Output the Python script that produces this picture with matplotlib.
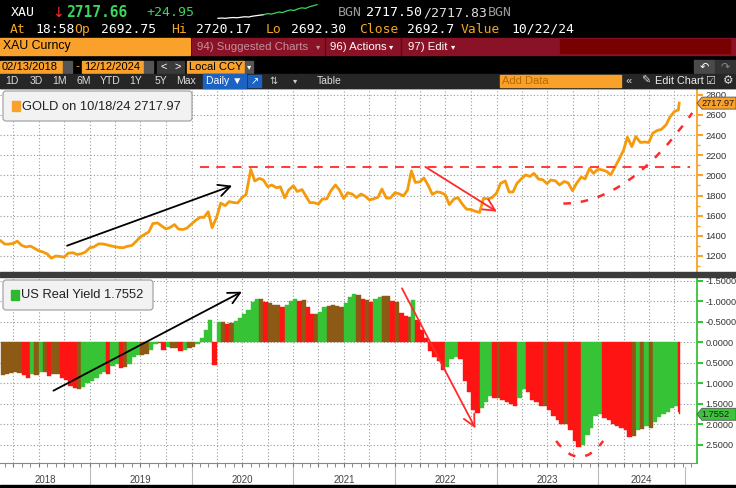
import matplotlib
matplotlib.use('Agg')
import matplotlib.pyplot as plt
import matplotlib.dates as mdates
from matplotlib.patches import Rectangle, FancyBboxPatch, Polygon, PathPatch
from matplotlib.path import Path
from matplotlib.transforms import blended_transform_factory
import numpy as np
import pandas as pd

# semi-monthly readings (1st / 15th of each month), last point is 10/18/24
gold_2018 = [1350, 1318, 1318, 1325, 1347, 1305, 1290, 1298, 1278, 1252, 1241,
             1220, 1178, 1200, 1195, 1190, 1228, 1233, 1215, 1222, 1238]
gold_2019 = [1282, 1290, 1320, 1320, 1312, 1302, 1292, 1285, 1282, 1296, 1305, 1342,
             1388, 1412, 1440, 1522, 1528, 1500, 1468, 1482, 1512, 1468, 1463, 1476]
gold_2020 = [1517, 1552, 1585, 1583, 1640, 1480, 1590, 1725, 1700, 1740, 1730, 1727,
             1780, 1810, 2060, 1945, 1970, 1955, 1887, 1905, 1878, 1887, 1777, 1855]
gold_2021 = [1898, 1840, 1860, 1795, 1730, 1730, 1715, 1765, 1768, 1845, 1905, 1858,
             1770, 1828, 1814, 1780, 1815, 1795, 1757, 1767, 1783, 1865, 1775, 1775]
gold_2022 = [1829, 1818, 1797, 1855, 2045, 1930, 1937, 1975, 1897, 1812, 1837, 1830,
             1807, 1710, 1766, 1780, 1711, 1665, 1661, 1645, 1633, 1772, 1768, 1778]
gold_2023 = [1824, 1920, 1945, 1835, 1836, 1920, 1969, 2005, 1990, 2020, 1963, 1958,
             1919, 1955, 1945, 1905, 1940, 1925, 1848, 1920, 1983, 1965, 2070, 2020]
gold_2024 = [2063, 2055, 2039, 2005, 2082, 2155, 2250, 2380, 2286, 2385, 2327, 2332,
             2327, 2420, 2447, 2457, 2503, 2580, 2635, 2650, 2717.97]

yield_2018 = [0.80, 0.78, 0.75, 0.72, 0.74, 0.80, 0.88, 0.78, 0.80, 0.72, 0.73,
              0.82, 0.78, 0.78, 0.88, 0.92, 1.06, 1.12, 1.14, 1.08, 1.00]
yield_2019 = [0.95, 0.88, 0.78, 0.73, 0.78, 0.58, 0.52, 0.62, 0.60, 0.53, 0.35, 0.30,
              0.30, 0.28, 0.18, 0.05, 0.02, 0.18, 0.12, 0.15, 0.15, 0.22, 0.18, 0.15]
yield_2020 = [0.12, 0.05, -0.10, -0.30, -0.55, 0.55, -0.50, -0.50, -0.45, -0.48, -0.52, -0.60,
              -0.70, -0.80, -0.98, -1.05, -1.05, -0.98, -0.95, -0.92, -0.90, -0.85, -0.92, -1.00]
yield_2021 = [-1.05, -1.00, -1.02, -0.85, -0.70, -0.68, -0.75, -0.85, -0.88, -0.90, -0.88, -0.85,
              -0.95, -1.10, -1.18, -1.15, -1.05, -1.02, -0.98, -1.05, -1.10, -1.12, -1.12, -1.00]
yield_2022 = [-0.98, -0.72, -0.65, -0.62, -1.02, -0.55, -0.30, -0.10, 0.20, 0.35, 0.45, 0.68,
              0.60, 0.40, 0.35, 0.40, 0.95, 1.20, 1.65, 1.72, 1.60, 1.45, 1.30, 1.35]
yield_2023 = [1.35, 1.40, 1.45, 1.50, 1.55, 1.35, 1.15, 1.20, 1.40, 1.45, 1.55, 1.55,
              1.65, 1.80, 1.90, 2.00, 2.00, 2.15, 2.40, 2.55, 2.50, 2.25, 2.10, 1.80]
yield_2024 = [1.75, 1.85, 1.90, 2.00, 2.05, 2.10, 2.15, 2.30, 2.28, 2.15, 2.12, 2.05,
              2.08, 1.95, 1.82, 1.75, 1.70, 1.60, 1.55, 1.70, 1.7552]

gold = gold_2018 + gold_2019 + gold_2020 + gold_2021 + gold_2022 + gold_2023 + gold_2024
real_yield = yield_2018 + yield_2019 + yield_2020 + yield_2021 + yield_2022 + yield_2023 + yield_2024
dates = list(pd.date_range('2018-02-15', periods=161, freq='SMS')) + [pd.Timestamp('2024-10-18')]

# header sparkline (intraday)
spark_prev = [2692, 2692.5, 2692, 2693, 2693.5, 2693, 2694, 2695, 2694.5, 2696, 2697, 2698, 2699]
spark_today = [2699, 2701, 2700, 2702, 2704, 2703, 2706, 2708, 2707, 2710, 2712, 2711, 2714, 2716, 2718]

gold_ticks = [1200, 1400, 1600, 1800, 2000, 2200, 2400, 2600, 2800]
yield_ticks = [-1.5, -1.0, -0.5, 0.0, 0.5, 1.0, 1.5, 2.0, 2.5]
year_labels = ['2018', '2019', '2020', '2021', '2022', '2023', '2024']
year_edges = ['2018-02-12', '2019-01-01', '2020-01-01', '2021-01-01', '2022-01-01',
              '2023-01-01', '2024-01-01', '2024-11-09']

ORANGE = '#F9A12B'
GOLD_C = '#F59A0A'
RED = '#FF1414'
GREEN = '#36C336'
BROWN = '#8C5A14'
DRED = '#FF2A2A'
GRID = '#9A9A9A'

W, H = 736, 488
fig = plt.figure(figsize=(W / 100, H / 100), dpi=100, facecolor='white')


def box(x0, y0, x1, y1):
    return [x0 / W, 1 - y1 / H, (x1 - x0) / W, (y1 - y0) / H]


dn = mdates.date2num
x_lo, x_hi = pd.Timestamp('2018-02-12'), pd.Timestamp('2024-12-21')
SANS = 'Liberation Sans'
MONO = 'DejaVu Sans Mono'

# ---------------- gold panel ----------------
ax_g = fig.add_axes(box(0, 88, 697, 272))
ax_g.plot(dates, gold, color=GOLD_C, lw=2.0, solid_joinstyle='round', zorder=3)
ax_g.set_xlim(x_lo, x_hi)
ax_g.set_ylim(1041, 2868)
ax_g.yaxis.tick_right()
ax_g.set_yticks(gold_ticks)
ax_g.set_yticks(range(1100, 2900, 100), minor=True)
ax_g.tick_params(axis='y', which='major', colors=ORANGE, labelcolor='#333333', length=4, width=1.5,
                 labelsize=6.8, pad=2)
ax_g.tick_params(axis='y', which='minor', colors=ORANGE, length=2, width=1)
for lab in ax_g.get_yticklabels():
    lab.set_family(SANS)
ax_g.xaxis.set_major_locator(mdates.MonthLocator(bymonth=[1, 4, 7, 10]))
ax_g.tick_params(axis='x', which='both', length=0, labelbottom=False)
ax_g.grid(True, which='major', color=GRID, ls=(0, (1, 2)), lw=0.8)
for s in ['left', 'top', 'bottom']:
    ax_g.spines[s].set_visible(False)
ax_g.spines['right'].set_color(ORANGE)
ax_g.spines['right'].set_linewidth(1.3)

# annotations on gold
ax_g.plot([pd.Timestamp('2020-02-01'), pd.Timestamp('2024-11-27')], [2087, 2087],
          color=DRED, ls=(0, (5, 4)), lw=1.3, zorder=4)
ax_g.annotate('', xy=(dn(pd.Timestamp('2020-05-26')), 1898), xytext=(dn(pd.Timestamp('2018-10-11')), 1302),
              arrowprops=dict(arrowstyle='->,head_length=0.7,head_width=0.35', color='black', lw=1.3,
                              mutation_scale=12, shrinkA=0, shrinkB=0), zorder=5)
ax_g.annotate('', xy=(dn(pd.Timestamp('2023-01-02')), 1640), xytext=(dn(pd.Timestamp('2022-04-20')), 2085),
              arrowprops=dict(arrowstyle='->,head_length=0.7,head_width=0.35', color=DRED, lw=1.3,
                              mutation_scale=12, shrinkA=0, shrinkB=0), zorder=5)
curve_g = Path([(dn(pd.Timestamp('2023-08-29')), 1721), (dn(pd.Timestamp('2024-04-16')), 1721),
                (dn(pd.Timestamp('2024-12-04')), 2620)], [Path.MOVETO, Path.CURVE3, Path.CURVE3])
ax_g.add_patch(PathPatch(curve_g, fill=False, ec=DRED, lw=1.8, ls=(0, (3, 4)), zorder=5))

# ---------------- real yield panel ----------------
ax_y = fig.add_axes(box(0, 277, 697, 463))
num = dn(dates)
widths = np.append(np.diff(num), 3)
diffs = np.diff(real_yield, prepend=real_yield[0])
colors = [RED if d > 0.04 else GREEN if d < -0.04 else BROWN for d in diffs]
ax_y.bar(num, real_yield, width=widths, align='edge', color=colors, edgecolor=colors, lw=0.3, zorder=3)
ax_y.set_xlim(x_lo, x_hi)
ax_y.set_ylim(2.944, -1.593)
ax_y.yaxis.tick_right()
ax_y.set_yticks(yield_ticks)
ax_y.set_yticklabels(['%.4f' % v for v in yield_ticks], family=SANS)
ax_y.tick_params(axis='y', colors=GREEN, labelcolor='#333333', length=4, width=1.5, labelsize=6.6, pad=2)
ax_y.xaxis.set_major_locator(mdates.MonthLocator(bymonth=[1, 4, 7, 10]))
ax_y.xaxis.set_minor_locator(mdates.MonthLocator())
ax_y.tick_params(axis='x', which='both', length=3, color='#777777', labelbottom=False)
ax_y.grid(True, which='major', color=GRID, ls=(0, (1, 2)), lw=0.8)
ax_y.set_axisbelow(True)
for s in ['left', 'top']:
    ax_y.spines[s].set_visible(False)
ax_y.spines['right'].set_color(GREEN)
ax_y.spines['right'].set_linewidth(1.3)
ax_y.spines['bottom'].set_color('#888888')

ax_y.annotate('', xy=(dn(pd.Timestamp('2020-06-30')), -1.234), xytext=(dn(pd.Timestamp('2018-08-23')), 1.18),
              arrowprops=dict(arrowstyle='->,head_length=0.7,head_width=0.35', color='black', lw=1.3,
                              mutation_scale=12, shrinkA=0, shrinkB=0), zorder=5)
ax_y.annotate('', xy=(dn(pd.Timestamp('2022-10-17')), 2.098), xytext=(dn(pd.Timestamp('2022-01-26')), -1.317),
              arrowprops=dict(arrowstyle='->,head_length=0.7,head_width=0.35', color=DRED, lw=1.3,
                              mutation_scale=12, shrinkA=0, shrinkB=0), zorder=5)
curve_y = Path([(dn(pd.Timestamp('2023-08-03')), 2.407), (dn(pd.Timestamp('2023-10-27')), 3.188),
                (dn(pd.Timestamp('2024-01-19')), 2.407)], [Path.MOVETO, Path.CURVE3, Path.CURVE3])
ax_y.add_patch(PathPatch(curve_y, fill=False, ec=DRED, lw=1.8, ls=(0, (3, 4)), zorder=5, clip_on=False))

# year labels under the axis
tr = blended_transform_factory(ax_y.transData, ax_y.transAxes)
edges = [pd.Timestamp(e) for e in year_edges]
for i, lab in enumerate(year_labels):
    mid = edges[i] + (edges[i + 1] - edges[i]) / 2
    ax_y.text(dn(mid), -0.092, lab, transform=tr, ha='center', va='center', fontsize=7,
              color='#444444', family=SANS)
for e in edges[1:]:
    ax_y.plot([dn(e), dn(e)], [-0.022, -0.118], transform=tr, color='#BBBBBB', lw=0.8, clip_on=False)

# ---------------- overlay (terminal chrome) in pixel units ----------------
ui = fig.add_axes([0, 0, 1, 1], zorder=10)
ui.set_xlim(0, W)
ui.set_ylim(H, 0)
ui.axis('off')
ui.patch.set_alpha(0)

ui.add_patch(Rectangle((0, 0), W, 88, color='black'))
ui.add_patch(Rectangle((0, 485), W, 3, color='black'))
ui.add_patch(Rectangle((0, 272), W, 5, color='#3C3C3C'))


def t(x, y, s, c='white', size=9, fam=SANS, weight='normal', ha='left'):
    ui.text(x, y, s, color=c, fontsize=size, family=fam, weight=weight, ha=ha, va='center')


# row 1
t(11, 12.5, 'XAU', 'white', 9.5, MONO)
t(52, 12.5, '\u2193', '#FF3030', 10, 'DejaVu Sans')
t(66, 12.5, '2717.66', '#3CD45A', 10.5, MONO, 'bold')
t(146, 12.5, '+24.95', '#3CD45A', 9.5, MONO)
t(338, 12.5, 'BGN', '#9A9A9A', 9.5, MONO)
t(366, 12.5, '2717.50', 'white', 9.5, MONO)
t(423, 12.5, '/2717.83', '#DDDDDD', 9.5, MONO)
t(488, 12.5, 'BGN', '#9A9A9A', 9.5, MONO)
# row 2
OR2 = '#F5A623'
t(10, 29.5, 'At', OR2, 9.4, MONO)
t(35, 29.5, '18:58', 'white', 9.4, MONO)
t(74, 29.5, 'Op', OR2, 9.4, MONO)
t(101, 29.5, '2692.75', 'white', 9.4, MONO)
t(171, 29.5, 'Hi', OR2, 9.4, MONO)
t(196, 29.5, '2720.17', 'white', 9.4, MONO)
t(266, 29.5, 'Lo', OR2, 9.4, MONO)
t(291, 29.5, '2692.30', 'white', 9.4, MONO)
t(359, 29.5, 'Close', OR2, 9.4, MONO)
t(407, 29.5, '2692.7', 'white', 9.4, MONO)
t(461, 29.5, 'Value', OR2, 9.4, MONO)
t(511, 29.5, '10/22/24', 'white', 9.4, MONO)

# sparkline
ax_sp = fig.add_axes(box(213, 4, 322, 19), zorder=11)
ax_sp.axis('off')
n0 = len(spark_prev)
ax_sp.plot(range(n0), spark_prev, color='white', lw=0.9)
ax_sp.plot(range(n0 - 1, n0 - 1 + len(spark_today)), spark_today, color='#3CD45A', lw=0.9)

# row 3
ui.add_patch(Rectangle((0, 38), 190, 17, color=ORANGE))
ui.add_patch(Rectangle((192, 38), W - 192, 17, color='#8A1226'))
ui.add_patch(Rectangle((560, 39), 170, 14, color='#780000'))
for xs in [325, 401]:
    ui.plot([xs, xs], [38, 55], color='#5A0A14', lw=1)
t(3, 46.5, 'XAU Curncy', 'black', 8.8)
t(197, 46.5, '94) Suggested Charts', '#C4909A', 8.2)
t(316, 46.5, '\u25be', '#C4909A', 6, 'DejaVu Sans')
t(330, 46.5, '96) Actions', 'white', 8.2)
t(389, 46.5, '\u25be', 'white', 6, 'DejaVu Sans')
t(408, 46.5, '97) Edit', 'white', 8.2)
t(451, 46.5, '\u25be', 'white', 6, 'DejaVu Sans')

# row 4
ui.add_patch(Rectangle((0, 61), 62, 12, color=ORANGE))
ui.add_patch(Rectangle((63, 61), 9, 12, color='#555555'))
t(2, 67, '02/13/2018', 'black', 8)
t(75, 67, '-', ORANGE, 9)
ui.add_patch(Rectangle((82, 61), 61, 12, color=ORANGE))
ui.add_patch(Rectangle((144, 61), 9, 12, color='#555555'))
t(84, 67, '12/12/2024', 'black', 8)
ui.add_patch(Rectangle((157, 61), 13, 12, color='#3A3A3A'))
ui.add_patch(Rectangle((171, 61), 13, 12, color='#3A3A3A'))
t(163.5, 67, '<', 'white', 8, ha='center')
t(177.5, 67, '>', 'white', 8, ha='center')
ui.add_patch(Rectangle((187, 61), 57, 12, color=ORANGE))
t(189, 67, 'Local CCY', 'black', 8)
ui.add_patch(Rectangle((245, 61), 8, 12, color='#555555'))
t(249, 67, '\u25be', 'white', 6, 'DejaVu Sans', ha='center')
ui.add_patch(Rectangle((694, 60), 20, 13, color='#4A4A4A'))
ui.add_patch(Rectangle((715, 60), 20, 13, color='#333333'))
t(704, 66.5, '\u21b6', 'white', 8, 'DejaVu Sans', ha='center')
t(725, 66.5, '\u21b7', '#888888', 8, 'DejaVu Sans', ha='center')

# row 5 toolbar
ui.add_patch(Rectangle((0, 74), W, 14, color='#262626'))
for lab, xc in zip(['1D', '3D', '1M', '6M', 'YTD', '1Y', '5Y', 'Max'],
                   [12, 36, 60, 84, 110, 136, 161, 186]):
    t(xc, 81, lab, '#DDDDDD', 7.5, ha='center')
ui.add_patch(Rectangle((203, 74), 43, 14, color='#1C62C2'))
t(206, 81, 'Daily \u25bc', 'white', 7.5)
ui.add_patch(Rectangle((248, 75), 13, 12, color='#1C62C2'))
t(254.5, 81, '\u2197', 'white', 7, 'DejaVu Sans', ha='center')
t(274, 81, '\u21c5', '#CCCCCC', 7, 'DejaVu Sans', ha='center')
t(295, 81, '\u25be', '#CCCCCC', 6, 'DejaVu Sans', ha='center')
t(317, 81, 'Table', '#DDDDDD', 7.5)
ui.add_patch(Rectangle((500, 75), 121, 12, color=ORANGE))
t(502, 81, 'Add Data', '#B86A00', 8)
t(626, 81, '\u00ab', '#DDDDDD', 8)
t(641, 81, '\u270e', '#DDDDDD', 8, 'DejaVu Sans')
t(655, 81, 'Edit Chart', '#EEEEEE', 7.8)
t(705, 81, '\u2611', '#DDDDDD', 8, 'DejaVu Sans')
t(723, 81, '\u2699', '#DDDDDD', 8.5, 'DejaVu Sans')

# legends
ui.add_patch(FancyBboxPatch((3, 91), 189, 30, boxstyle='round,pad=0,rounding_size=3',
                            fc='#F2F2F2', ec='#9A9A9A', lw=0.8))
ui.add_patch(Rectangle((12, 101), 8, 10, color=ORANGE))
t(22, 106.5, 'GOLD on %s %.2f' % (dates[-1].strftime('%m/%d/%y'), gold[-1]), '#222222', 9.3)
ui.add_patch(FancyBboxPatch((3, 280), 150, 30, boxstyle='round,pad=0,rounding_size=3',
                            fc='#F2F2F2', ec='#9A9A9A', lw=0.8))
ui.add_patch(Rectangle((11, 290), 8, 10, color='#2DB82D'))
t(21, 295.5, 'US Real Yield %.4f' % real_yield[-1], '#222222', 9.3)

# last-value tags on the right axis
for ax, val, col, txt in [(ax_g, gold[-1], ORANGE, '%.2f' % gold[-1]),
                          (ax_y, real_yield[-1], '#3CC43C', '%.4f' % real_yield[-1])]:
    yc = H - ax.transData.transform((dn(x_hi), val))[1]
    ui.add_patch(Polygon([(697, yc), (702, yc - 6), (736, yc - 6), (736, yc + 6), (702, yc + 6)],
                         closed=True, fc=col, ec='#555555', lw=0.6))
    t(701, yc + 0.5, txt, '#1A1A1A', 6.6)

fig.savefig('out.png', dpi=100, facecolor='white')
plt.close(fig)
